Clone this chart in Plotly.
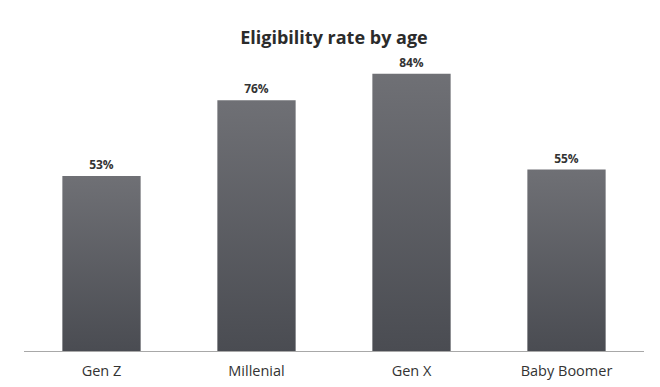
import plotly.graph_objects as go

categories = ["Gen Z", "Millenial", "Gen X", "Baby Boomer"]
values = [53, 76, 84, 55]
labels = ["53%", "76%", "84%", "55%"]

BAR_W = 0.505
positions = list(range(len(categories)))

fig = go.Figure()
# invisible bar trace carrying the value labels
fig.add_trace(go.Bar(
    x=positions, y=values, text=labels, textposition="outside",
    width=BAR_W,
    marker=dict(color="rgba(0,0,0,0)", line=dict(width=0)),
    textfont=dict(family="Open Sans", size=12, color="#333333", weight="bold"),
    cliponaxis=False, hoverinfo="skip",
))
# gradient-filled bar shapes built from the same data
for p, v in zip(positions, values):
    x0, x1 = p - BAR_W / 2, p + BAR_W / 2
    fig.add_trace(go.Scatter(
        x=[x0, x1, x1, x0, x0], y=[0, 0, v, v, 0],
        mode="lines", line=dict(width=0), fill="toself",
        fillgradient=dict(type="vertical",
                          colorscale=[[0, "#4a4c52"], [1, "#6f7075"]]),
        hoverinfo="skip",
    ))

fig.update_layout(
    width=660, height=387,
    margin=dict(l=16, r=24, t=13, b=44),
    paper_bgcolor="white", plot_bgcolor="white",
    showlegend=False,
    title=dict(text="<b>Eligibility rate by age</b>", x=(16 + 310) / 660, xanchor="center",
               y=1 - 30 / 387, yanchor="middle", yref="container",
               font=dict(family="Open Sans", size=18, color="#2b2b2b")),
    xaxis=dict(range=[-0.5, 3.5], tickvals=positions, ticktext=categories,
               showgrid=False, zeroline=False, showline=True,
               linecolor="#a8a8a8", linewidth=1, ticks="", ticklabelstandoff=7,
               tickfont=dict(family="Open Sans", size=14.5, color="#333")),
    yaxis=dict(range=[0, 100], visible=False, showgrid=False, zeroline=False),
)
fig.write_html("out.html")
